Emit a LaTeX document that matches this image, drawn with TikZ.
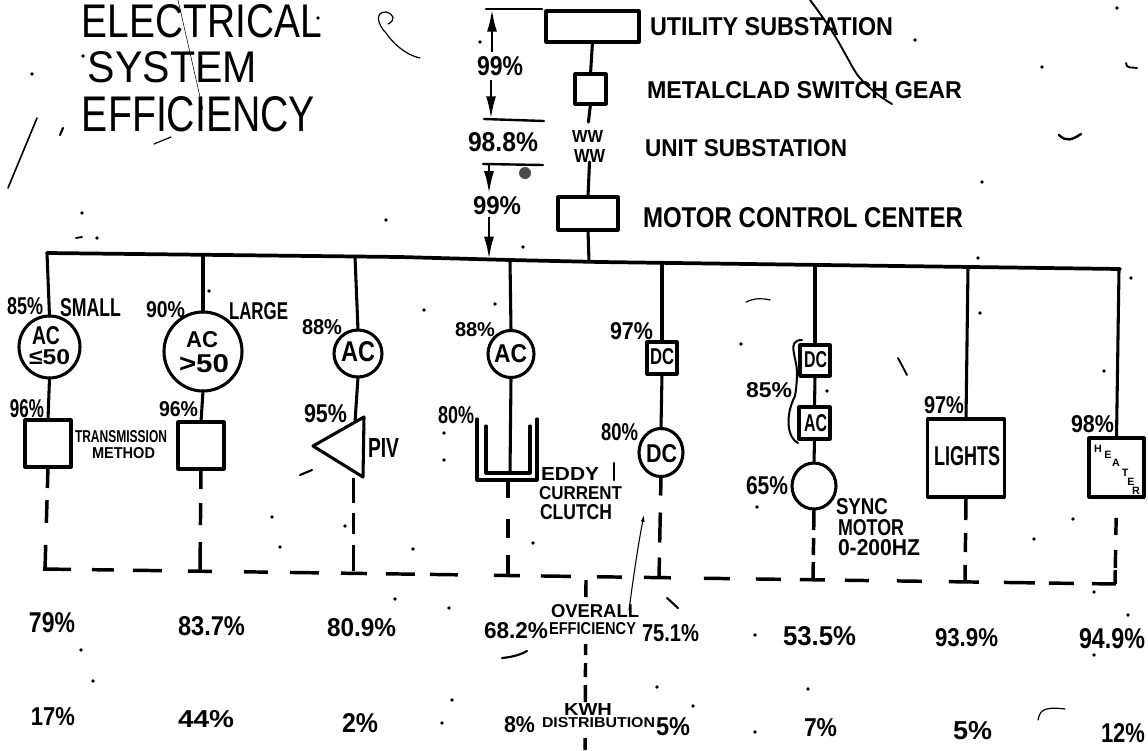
\documentclass[tikz,border=0pt]{standalone}
\usepackage{graphicx}
\usepackage{fontspec}
\setmainfont{Liberation Sans}
\usetikzlibrary{shapes.geometric,arrows.meta}
\newcounter{labc}
\tikzset{
  txt/.style={inner sep=0pt,outer sep=0pt,font=\fontsize{20}{20}\selectfont\bfseries},
  titletxt/.style={font=\fontsize{20}{20}\selectfont},
  wire/.style={line width=2.3pt,line cap=round,line join=round},
  busline/.style={line width=2.8pt,line join=round,line cap=round},
  outline/.style={draw,line width=2.3pt,line join=round,inner sep=0pt,outer sep=0pt},
  bx/.style={outline,rectangle},
  ell/.style={outline,ellipse},
  dashw/.style={line width=2.6pt,line cap=butt},
  tickl/.style={line width=1.8pt,line cap=round},
  dimarrow/.style={line width=2pt,-{Latex[length=17pt,width=7.5pt]}},
  scratch/.style={line width=.9pt,line cap=round,line join=round},
  speck/.style={fill=black,draw=none},
}
% \lab[options]{x0}{x1}{y0}{y1}{text}: text fitted to a box given in reference pixels
\newcommand{\lab}[6][]{%
  \stepcounter{labc}%
  \pgfmathsetmacro\lw{(#3-#2)*0.75}\pgfmathsetmacro\lh{(#5-#4)*0.75}%
  \node[txt,name=L\thelabc,#1] at ({(#2+#3)/2},{(#4+#5)/2}) {\resizebox{\lw pt}{\lh pt}{#6}};}
\begin{document}
\begin{tikzpicture}[x=0.75pt,y=-0.75pt]
\path[use as bounding box,fill=white] (0,0) rectangle (1148,750);

% title
\lab[name=title1,titletxt]{82}{322}{5}{38}{ELECTRICAL}
\lab[name=title2,titletxt]{88}{257}{52}{83}{SYSTEM}
\lab[name=title3,titletxt]{82}{315}{97}{132}{EFFICIENCY}

% supply chain
\node[bx,minimum width=93*.75pt,minimum height=31*.75pt] (util) at (592.5,26.5) {};
\node[bx,minimum width=31*.75pt,minimum height=30*.75pt] (switch) at (590.5,89) {};
\node[bx,minimum width=60*.75pt,minimum height=33*.75pt] (motor) at (588,213.5) {};
\lab[name=ww1]{572}{603}{130}{142}{WW}
\lab[name=ww2]{574}{605}{149}{162}{WW}
\lab[name=tutil]{650}{893}{18}{36}{UTILITY SUBSTATION}
\lab[name=tswitch]{647}{962}{82}{99}{METALCLAD SWITCH GEAR}
\lab[name=tunit]{645}{847}{140}{157}{UNIT SUBSTATION}
\lab[name=tmotor]{643}{963}{208}{228}{MOTOR CONTROL CENTER}

% bus
\coordinate (busL) at (47,253);
\coordinate (busA) at (400,257);
\coordinate (busB) at (510,260);
\coordinate (busC) at (600,262);
\coordinate (busR) at (1120,269);
\draw[busline] (busL) -- (busA) -- (busB) -- (busC) -- (busR);
\coordinate (b1) at (47,253);
\coordinate (b2) at (203,254.8);
\coordinate (b3) at (355,256.5);
\coordinate (bm) at (489,259.4);
\coordinate (b4) at (510,260);
\coordinate (b0) at (589,261.8);
\coordinate (b5) at (662,262.8);
\coordinate (b6) at (815,265);
\coordinate (b7) at (968,267);
\coordinate (b8) at (1119,269);

\draw[wire] (util.south) -- (switch.north);
\draw[wire,shorten >=8*.75pt] (switch.south) -- (ww1.north);
\draw[wire] (ww2.south) -- (motor.north);
\draw[wire] (motor.south) -- (b0);

% dimension marks
\coordinate (t1a) at (486,9);\coordinate (t1b) at (542,9);
\coordinate (t2a) at (484,119);\coordinate (t2b) at (544,121);
\coordinate (t3a) at (483,164);\coordinate (t3b) at (543,165);
\draw[tickl] (t1a) -- (t1b);
\draw[tickl] (t2a) -- (t2b);
\draw[tickl] (t3a) -- (t3b);
\lab[name=p99a]{477}{523}{57}{76}{99\%}
\lab[name=p988]{468}{538}{133}{152}{98.8\%}
\lab[name=p99b]{473}{521}{197}{215}{99\%}
\coordinate (t1m) at (492,9);
\coordinate (t2m) at (491,119);
\coordinate (t3m) at (489,164);
\draw[dimarrow,shorten <=5*.75pt] (p99a.north -| t1m) -- (t1m);
\draw[dimarrow,shorten <=4*.75pt] (p99a.south -| t2m) -- (t2m);
\draw[dimarrow,shorten >=3*.75pt] (t3m) -- (p99b.north -| t3m);
\draw[dimarrow,shorten <=2*.75pt] (p99b.south -| bm) -- (bm);

% column 1
\node[ell,minimum width=61*.75pt,minimum height=62*.75pt] (c1) at (49.5,347) {};
\node[bx,minimum width=46*.75pt,minimum height=47*.75pt] (box1) at (48,443.5) {};
\draw[wire] (b1) -- (c1.north);
\draw[wire] (c1.south) -- (box1.north);
\lab[name=c1a]{32}{60}{327}{345}{AC}
\lab[name=c1b]{29}{70}{350}{365}{≤50}
\lab{7}{43}{298}{315}{85\%}
\lab{60}{121}{299}{317}{SMALL}
\lab{10}{44}{400}{418}{96\%}
\lab{75}{167}{431}{443}{TRANSMISSION}
\lab{92}{155}{448}{459}{METHOD}

% column 2
\node[ell,minimum width=78*.75pt,minimum height=79*.75pt] (c2) at (203,351.5) {};
\node[bx,minimum width=46*.75pt,minimum height=47*.75pt] (box2) at (201,445.5) {};
\draw[wire] (b2) -- (c2.north);
\draw[wire] (c2.south) -- (box2.north);
\lab[name=c2a]{186}{218}{332}{348}{AC}
\lab[name=c2b]{179}{229}{355}{373}{>50}
\lab{146}{185}{302}{318}{90\%}
\lab{229}{288}{303}{320}{LARGE}
\lab{159}{198}{402}{417}{96\%}

% column 3
\node[ell,minimum width=48*.75pt,minimum height=47*.75pt] (c3) at (358,353.5) {};
\coordinate (triTip) at (313,446);
\coordinate (triTop) at (364,417);
\coordinate (triBot) at (363,477);
\coordinate (triIn) at (355,422);
\coordinate (triOut) at (353.5,478);
\draw[wire] (triTip) -- (triTop) -- (triBot) -- cycle;
\draw[wire] (b3) -- (c3.north);
\draw[wire] (c3.south) -- (triIn);
\lab[name=c3a]{341}{375}{342}{362}{AC}
\lab{302}{342}{320}{335}{88\%}
\lab{304}{347}{405}{423}{95\%}
\lab{368}{399}{438}{457}{PIV}

% column 4
\node[ell,minimum width=46*.75pt,minimum height=47*.75pt] (c4) at (511,354) {};
\coordinate (u1a) at (477,419);\coordinate (u1b) at (477,480);
\coordinate (u1c) at (537,480);\coordinate (u1d) at (537,419);
\coordinate (u2a) at (486,426);\coordinate (u2b) at (486,473);
\coordinate (u2c) at (530,473);\coordinate (u2d) at (530,426);
\coordinate (shaft) at (510,473);
\coordinate (stub4) at (508,480);
\draw[wire] (u1a) -- (u1b) -- (u1c) -- (u1d);
\draw[wire] (u2a) -- (u2b) -- (u2c) -- (u2d);
\draw[wire] (b4) -- (c4.north);
\draw[wire] (c4.south) -- (shaft);
\lab[name=c4a]{494}{527}{345}{363}{AC}
\lab{455}{495}{323}{337}{88\%}
\lab{438}{474}{407}{424}{80\%}
\lab{541}{599}{467}{480}{EDDY}
\lab{539}{622}{487}{500}{CURRENT}
\lab{540}{612}{505}{520}{CLUTCH}

% column 5
\node[bx,minimum width=30*.75pt,minimum height=32*.75pt] (dc1) at (662,358) {};
\node[ell,minimum width=44*.75pt,minimum height=48*.75pt] (c5) at (661,452.5) {};
\draw[wire] (b5) -- (dc1.north);
\draw[wire] (dc1.south) -- (c5.north);
\lab[name=dc1t]{650}{674}{349}{365}{DC}
\lab[name=c5a]{646}{677}{445}{463}{DC}
\lab{610}{653}{323}{340}{97\%}
\lab{601}{638}{424}{441}{80\%}

% column 6
\node[bx,minimum width=30*.75pt,minimum height=31*.75pt] (dc2) at (815,360.5) {};
\node[bx,minimum width=31*.75pt,minimum height=32*.75pt] (ac2) at (814.5,423) {};
\node[ell,minimum width=44*.75pt,minimum height=46*.75pt] (c6) at (814,486) {};
\draw[wire] (b6) -- (dc2.north);
\draw[wire] (dc2.south) -- (ac2.north);
\draw[wire] (ac2.south) -- (c6.north);
\lab[name=dc2t]{804}{827}{352}{368}{DC}
\lab[name=ac2t]{804}{827}{415}{432}{AC}
\lab{746}{792}{383}{398}{85\%}
\lab{746}{788}{477}{495}{65\%}
\lab{836}{888}{499}{515}{SYNC}
\lab{838}{904}{520}{536}{MOTOR}
\lab{838}{920}{540}{556}{0-200HZ}
\coordinate (brTop) at (802,340);
\coordinate (brBot) at (798,443);
\draw[line width=1.5pt,line cap=round] (brTop) .. controls (786,340) and (797,358) .. (797,372)
  .. controls (797,382) and (796,390) .. (795,396)
  .. controls (785,415) and (787,438) .. (brBot);

% column 7
\node[bx,minimum width=76.5*.75pt,minimum height=78*.75pt] (lights) at (966,458) {};
\draw[wire] (b7) -- (lights.north);
\lab[name=lightst]{934}{1000}{447}{466}{LIGHTS}
\lab{924}{964}{397}{414}{97\%}

% column 8
\node[bx,minimum width=55*.75pt,minimum height=59*.75pt] (heater) at (1116.5,467.5) {};
\draw[wire] (b8) -- (heater.north);
\lab{1071}{1114}{416}{433}{98\%}
\node[txt,font=\fontsize{8}{8}\selectfont\bfseries,anchor=base west] (heatert) at (1098,452) {%
  \makebox[0pt]{H}\hspace{7.5pt}\raisebox{-4.5pt}{\makebox[0pt]{E}}\hspace{6pt}%
  \raisebox{-11pt}{\makebox[0pt]{A}}\hspace{6.75pt}\raisebox{-18pt}{\makebox[0pt]{T}}\hspace{4.5pt}%
  \raisebox{-25pt}{\makebox[0pt]{E}}\hspace{3.75pt}\raisebox{-32pt}{\makebox[0pt]{R}}};

% dashed return lines
\coordinate (r0) at (43,569);
\coordinate (rEnd) at (1116,584);
\coordinate (e1) at (45,569);
\coordinate (e2) at (200,571);
\coordinate (e3) at (353.5,573);
\coordinate (e4) at (508,575.5);
\coordinate (e5) at (659,578);
\coordinate (e6) at (813,581);
\coordinate (e7) at (965,583);
\coordinate (e8) at (1115,584);
\draw[dashw,dash pattern=on 15.75pt off 9pt on 17.25pt off 16.5pt on 17.25pt] (box1.south) -- (e1);
\draw[dashw,dash pattern=on 15pt off 10.5pt on 16.5pt off 12.75pt on 21pt] (box2.south) -- (e2);
\draw[dashw,dash pattern=on 18.75pt off 7.5pt on 15.75pt off 8.25pt on 19.5pt] (triOut) -- (e3);
\draw[dashw,dash pattern=on 13.5pt off 15.75pt on 14.25pt off 12.75pt on 15pt] (stub4) -- (e4);
\draw[dashw,dash pattern=on 14.25pt off 12.75pt on 22.5pt off 11.25pt on 15.75pt] (c5.south) -- (e5);
\draw[dashw,dash pattern=on 15.75pt off 6pt on 12.75pt off 5.25pt on 15pt] (c6.south) -- (e6);
\draw[dashw,dash pattern=on 17.25pt off 9.75pt on 14.25pt off 9.75pt on 15pt] (lights.south) -- (e7);
\draw[dashw,dash pattern=on 0pt off 15.75pt on 12.75pt off 11.25pt on 13.5pt off 1.5pt on 11.25pt] (heater.south) -- (e8);
\draw[dashw,dash pattern=on 21pt off 15.75pt on 16.5pt off 14.25pt on 21.75pt off 19.5pt on 18pt off 24pt on 18pt off 16.5pt on 21.75pt off 16.5pt on 19.5pt off 14.25pt on 21.75pt off 11.25pt on 21pt off 27pt on 19.5pt off 15.75pt on 22.5pt off 19.5pt on 18.75pt off 16.5pt on 20.25pt off 24.75pt on 19.5pt off 19.5pt on 18.75pt off 14.25pt on 18.75pt off 15pt on 18pt off 21pt on 18.75pt off 20.25pt on 22.5pt off 18.75pt on 23.25pt off 10.5pt on 18.75pt off 13.5pt on 18pt] (r0) -- (rEnd);

% centre dashed divider
\coordinate (div0) at (586,580);
\coordinate (div1) at (585,750);
\draw[dashw,dash pattern=on 12.75pt off 35.25pt on 8.25pt off 6pt on 10.5pt off 6pt on 12.75pt off 27pt on 9pt] (div0) -- (div1);

% row labels
\lab[name=overall]{551}{639}{605}{618}{OVERALL}
\lab[name=effic]{549}{636}{623}{635}{EFFICIENCY}
\lab[name=kwh]{564}{612}{703}{715}{KWH}
\lab[name=distr]{542}{655}{718}{728}{DISTRIBUTION}

% overall efficiency row
\lab{29}{75}{613}{633}{79\%}
\lab{178}{245}{617}{636}{83.7\%}
\lab{327}{396}{619}{637}{80.9\%}
\lab{484}{548}{623}{639}{68.2\%}
\lab{642}{699}{625}{642}{75.1\%}
\lab{783}{856}{627}{646}{53.5\%}
\lab{935}{998}{629}{647}{93.9\%}
\lab{1079}{1145}{629}{649}{94.9\%}
% kwh row
\lab{31}{75}{708}{726}{17\%}
\lab{178}{234}{711}{728}{44\%}
\lab{342}{378}{714}{733}{2\%}
\lab{504}{535}{717}{733}{8\%}
\lab{656}{690}{718}{736}{5\%}
\lab{804}{837}{719}{737}{7\%}
\lab{953}{992}{722}{740}{5\%}
\lab{1101}{1145}{724}{743}{12\%}

% hand-drawn line pointing at the row label
\coordinate (ptr0) at (629,610);
\coordinate (ptr1) at (644,515);
\draw[line width=.8pt,-{Latex[length=5pt,width=3pt]}] (ptr0) .. controls (633,580) and (638,545) .. (ptr1);

% stray pen strokes of the scan
\draw[line width=1.4pt,line cap=round] (810,0) .. controls (823,17) and (835,35) .. (843,50)
  .. controls (850,62) and (855,73) .. (860,78) .. controls (870,90) and (885,100) .. (892,104);
\draw[scratch,line width=1.2pt] (37,118) -- (8,188);
\draw[scratch] (386,12) .. controls (374,12) and (378,25) .. (386,33) .. controls (392,42) and (405,55) .. (420,58);
\draw[scratch] (386,12) .. controls (394,14) and (396,20) .. (388,24);
\draw[scratch] (154,144) -- (171,137);
\draw[scratch,line width=1.6pt] (60,135) -- (63,128);
\draw[scratch,line width=.4pt] (178,0) -- (203,110);
\draw[scratch,line width=1.6pt] (502,658) .. controls (512,657) and (520,655) .. (527,651);
\draw[scratch] (1038,720) .. controls (1040,712) and (1041,706) .. (1065,709);
\draw[scratch,line width=1.4pt] (898,358) -- (907,375);
\draw[scratch] (746,302) .. controls (755,298) and (762,298) .. (770,300);
\draw[scratch,line width=1.6pt] (667,598) -- (678,608);
\draw[scratch,line width=1.8pt] (1059,135) .. controls (1066,142) and (1072,140) .. (1081,134);
\draw[scratch,line width=1.4pt] (1126,63) .. controls (1126,69) and (1132,67) .. (1137,68);
\draw[scratch,line width=1.8pt] (614,463) -- (614,480);
\draw[scratch,line width=1.4pt] (76,238) -- (82,237);
\draw[scratch,line width=1.6pt] (300,475) -- (312,470);
\fill[black!70] (525,173) circle[radius=6];
\foreach \sx/\sy in {480/42,523/247,915/40,1117/8,1042/67,982/182,978/258,32/74,82/213,97/238,386/220,
  209/291,424/310,495/304,444/433,444/460,272/517,345/526,280/547,413/549,533/543,
  1131/278,980/313,1104/371,741/344,827/391,757/507,1073/519,1034/539,
  395/599,449/608,81/650,93/681,452/700,442/723,755/635,1128/615,1094/655,657/687,808/689,693/706,755/732,1094/592,
  318/18,83/56}
  \fill[speck] (\sx,\sy) circle[radius=1.8];
\end{tikzpicture}
\end{document}
